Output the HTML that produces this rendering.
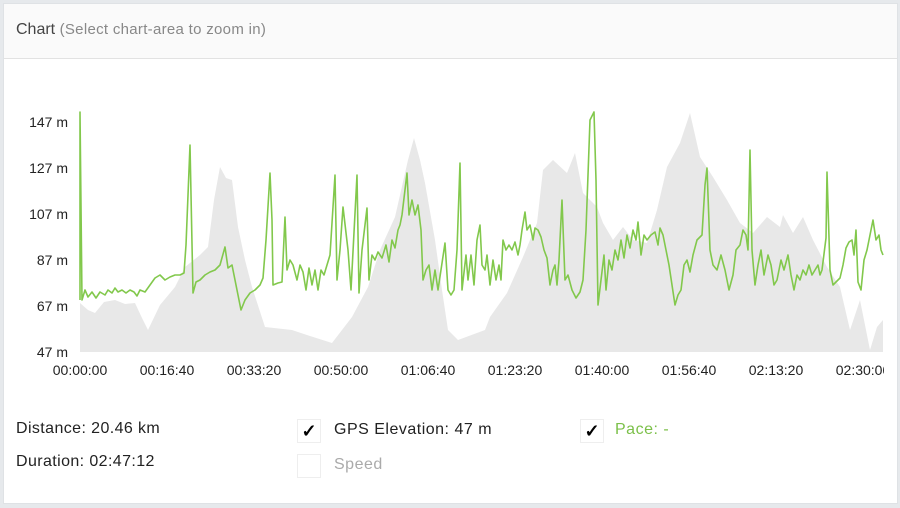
<!DOCTYPE html>
<html><head><meta charset="utf-8"><style>
body{margin:0;width:900px;height:508px;background:#e6e9ec;font-family:"Liberation Sans",sans-serif;overflow:hidden;position:relative}
.panel{position:absolute;left:3px;top:3px;width:893px;height:499px;background:#fff;border:1px solid #dfe2e5}
.hdr{position:absolute;left:0;top:0;right:0;height:54px;background:#fafafa;border-bottom:1px solid #e2e2e2}
.t{position:absolute;white-space:nowrap}
.cb{position:absolute;width:22px;height:22px;border:1px solid #eee;background:#fff;font-size:18px;font-weight:bold;line-height:22px;text-align:center;color:#000}
</style></head><body>
<div class="panel"><div class="hdr"><div class="t" style="left:12px;top:17px;font-size:16px;color:#444">Chart <span style="font-size:15px;letter-spacing:0.3px;color:#888">(Select chart-area to zoom in)</span></div></div></div>
<svg width="900" height="508" style="position:absolute;left:0;top:0">
<polygon fill="#e8e8e8" points="80,352 80,303 88,310 95,313 104,302 115,300 125,304 135,303 142,318 148,330 160,305 175,287 185,267 200,255 208,247 214,200 220,167 226,178 232,180 238,227 245,260 252,287 265,327 292,330 310,336 332,343 342,330 352,317 368,287 380,250 395,217 408,160 414,138 420,160 425,183 435,240 442,290 448,330 458,340 485,330 490,317 507,293 523,257 537,223 543,170 553,160 567,173 575,153 583,193 597,207 603,223 613,240 623,227 633,240 647,243 657,210 667,167 680,143 690,113 700,157 713,177 727,200 740,223 753,233 767,217 780,227 783,215 793,233 803,217 813,240 827,267 840,287 850,330 860,300 870,350 877,327 883,320 883,352"/>
<polyline fill="none" stroke="#82c84c" stroke-width="1.6" stroke-linejoin="round" points="80,300 80,112 82,300 85,290 88,297 92,292 96,298 100,292 105,295 108,290 112,293 115,288 118,292 122,290 126,293 130,290 134,292 137,296 140,290 145,292 150,285 155,278 160,275 165,280 170,277 175,275 180,275 184,273 186,245 190,145 193,293 196,282 200,280 205,275 210,272 215,270 220,265 225,247 228,268 232,265 235,280 238,295 241,310 245,300 250,293 255,290 260,285 263,278 266,240 270,173 272,220 273,285 278,283 282,282 285,217 287,270 290,260 293,265 297,280 300,265 303,272 306,290 309,268 312,285 315,270 318,290 321,270 324,275 327,265 330,255 335,175 337,280 340,250 343,207 348,250 351,290 357,175 359,293 362,250 367,208 369,280 372,255 375,260 378,252 382,258 386,245 389,262 392,240 395,248 398,230 400,225 402,215 407,173 409,215 412,200 415,215 418,205 421,230 423,280 426,270 429,265 432,290 435,270 438,290 445,243 448,290 451,295 454,290 457,250 460,163 462,290 466,255 468,280 471,255 474,285 477,240 480,225 482,265 485,270 487,255 490,285 493,260 496,280 499,265 501,280 503,240 506,250 509,245 512,250 515,242 518,255 520,245 522,230 525,212 527,230 530,225 533,240 535,228 538,230 541,237 544,250 547,258 550,285 553,270 555,265 557,285 559,260 562,200 565,280 568,275 572,290 576,298 580,292 583,280 586,230 590,120 594,112 596,180 598,305 601,280 604,255 606,290 609,260 612,270 615,250 618,260 621,240 624,258 627,235 630,248 633,230 636,240 638,222 641,255 644,235 647,240 651,235 655,232 658,245 660,228 663,235 666,250 669,265 672,285 675,305 678,295 681,290 684,265 687,260 690,272 693,255 697,240 702,235 705,185 707,168 710,250 713,265 717,270 721,255 725,270 729,290 733,275 736,250 740,245 743,230 746,235 748,250 750,150 752,250 755,285 758,265 761,250 764,275 768,255 771,265 774,285 777,280 781,260 784,270 788,255 791,275 794,290 797,275 800,280 803,270 806,275 809,265 812,275 815,270 818,265 820,275 822,270 826,238 827,172 830,270 833,285 836,282 840,278 843,265 846,248 849,242 852,240 854,255 856,230 858,282 861,290 864,260 867,250 869,240 871,230 873,220 876,240 879,235 881,250 883,255"/>
<g font-size="14" fill="#222" text-anchor="end" font-family="Liberation Sans">
<text x="68" y="127">147 m</text><text x="68" y="173">127 m</text><text x="68" y="219">107 m</text><text x="68" y="265">87 m</text><text x="68" y="311">67 m</text><text x="68" y="357">47 m</text></g>
<g font-size="14" fill="#222" text-anchor="middle" font-family="Liberation Sans">
<text x="80" y="375">00:00:00</text><text x="167" y="375">00:16:40</text><text x="254" y="375">00:33:20</text><text x="341" y="375">00:50:00</text><text x="428" y="375">01:06:40</text><text x="515" y="375">01:23:20</text><text x="602" y="375">01:40:00</text><text x="689" y="375">01:56:40</text><text x="776" y="375">02:13:20</text><text x="863" y="375">02:30:00</text></g>
<rect x="884" y="360" width="13" height="20" fill="#fff"/>
</svg>
<div class="t" style="left:16px;top:420px;font-size:16px;letter-spacing:0.4px;color:#222">Distance: 20.46 km</div>
<div class="t" style="left:16px;top:453px;font-size:16px;letter-spacing:0.4px;color:#222">Duration: 02:47:12</div>
<div class="cb" style="left:297px;top:419px">✓</div>
<div class="t" style="left:334px;top:421px;font-size:16px;letter-spacing:0.5px;color:#222">GPS Elevation: 47 m</div>
<div class="cb" style="left:297px;top:454px"></div>
<div class="t" style="left:334px;top:456px;font-size:16px;letter-spacing:0.5px;color:#aaa">Speed</div>
<div class="cb" style="left:580px;top:419px">✓</div>
<div class="t" style="left:615px;top:421px;font-size:16px;letter-spacing:0.5px;color:#7cc04a">Pace: -</div>
</body></html>
